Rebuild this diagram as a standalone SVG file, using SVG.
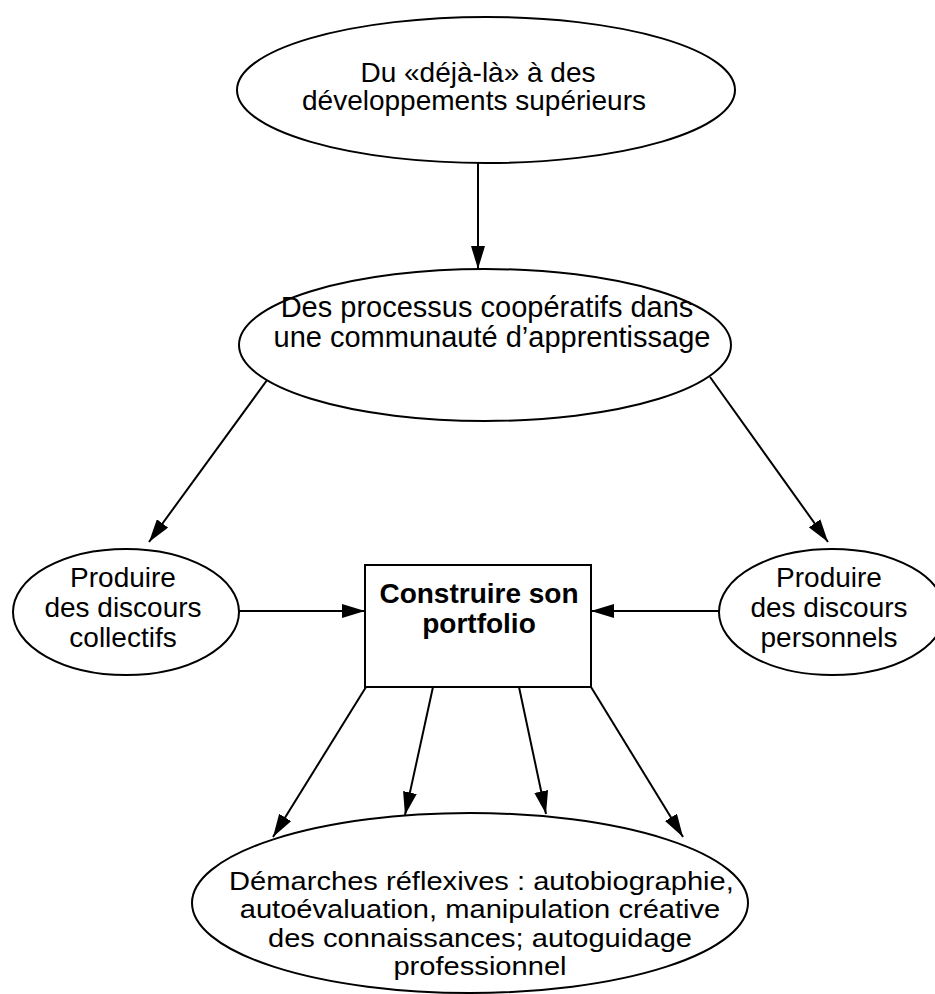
<svg xmlns="http://www.w3.org/2000/svg" width="935" height="994" viewBox="0 0 935 994">
<defs>
<style>
.shape{fill:#fff;stroke:#000;stroke-width:2}
.t{font-family:"Liberation Sans",Arial,sans-serif;font-size:28px;fill:#000;text-anchor:middle}
.b{font-weight:bold}
.s{font-size:26px}
.c line{stroke:#000;stroke-width:2}
</style>
<marker id="ah" viewBox="0 0 23 14" refX="23" refY="7" markerWidth="23" markerHeight="14" markerUnits="userSpaceOnUse" orient="auto">
<path d="M0,0 L23,7 L0,14 Z" fill="#000"/>
</marker>
</defs>
<rect width="935" height="994" fill="#fff"/>
<g id="connectors" class="c">
<line x1="478" y1="162" x2="478" y2="269" marker-end="url(#ah)"/>
<line x1="270" y1="376" x2="149" y2="542" marker-end="url(#ah)"/>
<line x1="710" y1="377" x2="828" y2="542" marker-end="url(#ah)"/>
<line x1="239" y1="611" x2="365" y2="611" marker-end="url(#ah)"/>
<line x1="719" y1="611" x2="591" y2="611" marker-end="url(#ah)"/>
<line x1="366" y1="687" x2="273" y2="837" marker-end="url(#ah)"/>
<line x1="433" y1="687" x2="405" y2="815" marker-end="url(#ah)"/>
<line x1="519" y1="687" x2="546" y2="814" marker-end="url(#ah)"/>
<line x1="591" y1="687" x2="683" y2="837" marker-end="url(#ah)"/>
</g>
<g id="n1">
<ellipse class="shape" cx="486" cy="90" rx="249" ry="73"/>
<text class="t" x="478" y="82">Du «déjà-là» à des</text>
<text class="t" x="474" y="110">développements supérieurs</text>
</g>
<g id="n2">
<ellipse class="shape" cx="485" cy="345" rx="246" ry="76"/>
<text class="t" x="487" y="317" style="font-size:29px">Des processus coopératifs dans</text>
<text class="t" x="492" y="347" style="font-size:29px">une communauté d’apprentissage</text>
</g>
<g id="n3">
<ellipse class="shape" cx="126" cy="612" rx="113" ry="63"/>
<text class="t" x="123" y="587">Produire</text>
<text class="t" x="123" y="617">des discours</text>
<text class="t" x="123" y="647">collectifs</text>
</g>
<g id="n4">
<rect class="shape" x="365" y="565" width="226" height="122"/>
<text class="t b" x="479" y="603">Construire son</text>
<text class="t b" x="479" y="633">portfolio</text>
</g>
<g id="n5">
<ellipse class="shape" cx="832" cy="612" rx="113" ry="63"/>
<text class="t" x="829" y="587">Produire</text>
<text class="t" x="829" y="617">des discours</text>
<text class="t" x="829" y="647">personnels</text>
</g>
<g id="n6">
<ellipse class="shape" cx="470" cy="903" rx="278" ry="90"/>
<g transform="translate(480,0) scale(1.12,1)">
<text class="t s" x="1.3" y="890">Démarches réflexives : autobiographie,</text>
<text class="t s" x="0" y="918">autoévaluation, manipulation créative</text>
<text class="t s" x="0" y="947">des connaissances; autoguidage</text>
<text class="t s" x="0" y="975">professionnel</text>
</g>
</g>
</svg>
